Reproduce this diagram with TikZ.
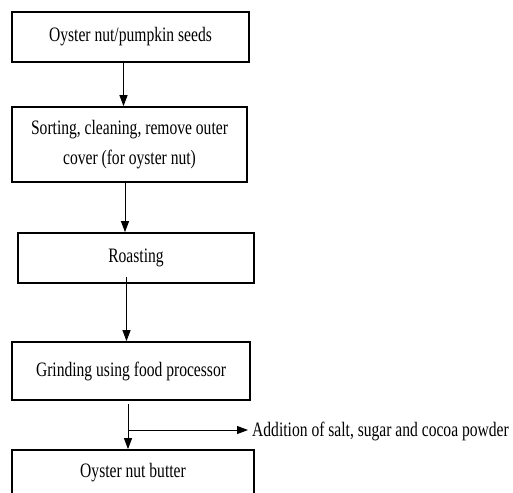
\documentclass[tikz,border=0pt]{standalone}
\usepackage{fontspec}
\setmainfont[FakeStretch=0.76]{Liberation Serif}
\usetikzlibrary{arrows.meta}
\begin{document}
\begin{tikzpicture}[x=1pt,y=-1pt,
  stepbox/.style={draw=black,line width=1.7pt,inner sep=0pt,align=center,
    font=\fontsize{20.5}{29.5}\selectfont},
  arr/.style={draw=black,line width=1pt,-{Triangle[length=11pt,width=8pt]}},
  lbl/.style={inner sep=0pt,font=\fontsize{20.5}{29.5}\selectfont}]
\useasboundingbox (0,0) rectangle (513,492);
\clip (0,0) rectangle (513,492);
\node[stepbox,minimum width=237pt,minimum height=50pt] (b1) at (130.5,37) {Oyster nut/pumpkin seeds};
\node[stepbox,minimum width=235pt,minimum height=75pt] (b2) at (129.5,144.5) {Sorting, cleaning, remove outer\\cover (for oyster nut)};
\node[stepbox,minimum width=236pt,minimum height=50pt] (b3) at (136,258) {Roasting};
\node[stepbox,minimum width=238pt,minimum height=58pt] (b4) at (131,371) {Grinding using food processor};
\node[stepbox,minimum width=242pt,minimum height=46pt] (b5) at (133,473) {Oyster nut butter};
\node[lbl,anchor=west] (add) at (252,431) {Addition of salt, sugar and cocoa powder};
\coordinate (br) at (128,430);
\draw[arr] ([xshift=-7pt]b1.south) -- ([xshift=-7pt]b1.south |- b2.north);
\draw[arr] ([xshift=-4.5pt]b2.south) -- ([xshift=-4.5pt]b2.south |- b3.north);
\draw[arr] ([xshift=-9.5pt,yshift=7pt]b3.south) -- ([xshift=-9.5pt]b3.south |- b4.north);
\draw[arr] ([xshift=-3pt,yshift=-3pt]b4.south) -- ([xshift=-3pt]b4.south |- b5.north);
\draw[arr,shorten >=4pt] (br) -- (br -| add.west);
\end{tikzpicture}
\end{document}
